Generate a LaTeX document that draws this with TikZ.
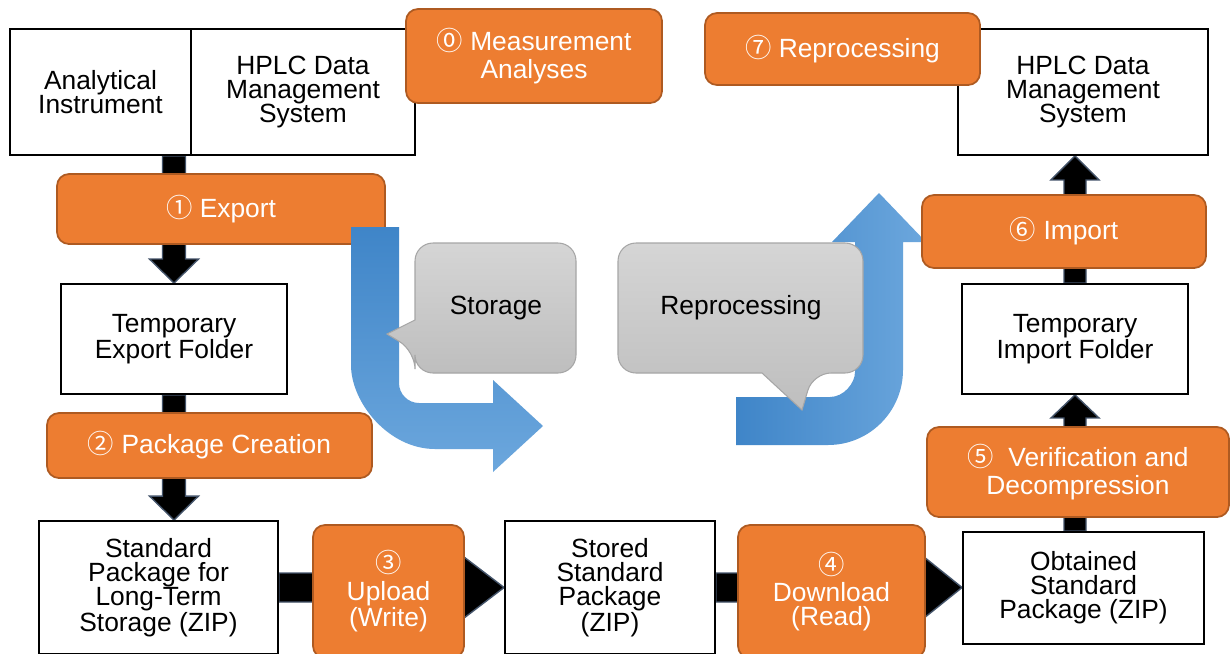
\documentclass[tikz,border=0pt]{standalone}
\usepackage{fontspec}
\setmainfont{Liberation Sans}
\newfontfamily\circfont{Noto Sans CJK JP}
\usetikzlibrary{calc}
\pgfdeclarelayer{bg}
\pgfsetlayers{bg,main}
\definecolor{orfill}{HTML}{ED7D31}
\definecolor{orborder}{HTML}{AE5A21}
\definecolor{slate}{HTML}{44546A}
\definecolor{bluedark}{HTML}{3F85C8}
\definecolor{bluelight}{HTML}{6CA7DD}
\definecolor{calltop}{HTML}{D5D5D5}
\definecolor{callbot}{HTML}{BEBEBE}
\definecolor{callborder}{HTML}{A6A6A6}
\newcommand\cnum[1]{{\circfont #1}}
% shaft half width, head half width, head length, from, to
\newcommand\blkarrow[5]{%
  \coordinate (bh) at ($(#5)!#3!(#4)$);
  \draw[blkarr] ($(#4)!#1!90:(#5)$) -- ($(bh)!#1!-90:(#4)$) -- ($(bh)!#2!-90:(#4)$) -- (#5)
     -- ($(bh)!#2!90:(#4)$) -- ($(bh)!#1!90:(#4)$) -- ($(#4)!#1!-90:(#5)$) -- cycle;}
\begin{document}
\begin{tikzpicture}[x=0.02cm,y=-0.02cm,
  font=\fontsize{15}{13.7}\selectfont,
  sz/.style 2 args={minimum width=#1*0.02cm, minimum height=#2*0.02cm},
  wbox/.style={draw=black, line width=1.1pt, fill=white, inner sep=0pt, align=center},
  obox/.style={draw=orborder, fill=orfill, line width=1pt, rounded corners=0.24cm, inner sep=0pt, align=center, text=white},
  blkarr/.style={fill=black, draw=slate, line width=0.8pt, line join=miter},
  callout/.style={top color=calltop, bottom color=callbot, draw=callborder, line width=0.6pt}]
\useasboundingbox (0,0) rectangle (1231,653);
\clip (0,0) rectangle (1231,653);

% white boxes
\node[wbox, sz={181}{126}] (ai) at (100.5,92) {Analytical\\Instrument};
\node[wbox, sz={224}{126}] (hplca) at (303,92) {HPLC Data\\Management\\System};
\node[wbox, sz={226}{110}] (exp) at (174,339) {Temporary\\Export Folder};
\node[wbox, sz={239}{133}] (std) at (158.5,587.5) {Standard\\Package for\\Long-Term\\Storage (ZIP)};
\node[wbox, sz={210}{133}] (stored) at (610,587.5) {Stored\\Standard\\Package\\(ZIP)};
\node[wbox, sz={241}{112}] (obt) at (1083.5,588) {Obtained\\Standard\\Package (ZIP)};
\node[wbox, sz={226}{110}] (timp) at (1075,339) {Temporary\\Import Folder};
\node[wbox, sz={250}{126}] (hplcb) at (1083,92) {HPLC Data\\Management\\System};

% background and black block arrows, behind everything
\begin{pgfonlayer}{bg}
\fill[white] (0,0) rectangle (1231,653);
\coordinate (a1s) at (exp.north |- ai.south);
\coordinate (a2e) at (exp.south |- std.north);
\coordinate (a4e) at (stored.east -| obt.west);
\coordinate (a5s) at (timp.south |- obt.north);
\coordinate (a6e) at (timp.north |- hplcb.south);
\blkarrow{0.23cm}{0.49cm}{0.48cm}{a1s}{exp.north}
\blkarrow{0.23cm}{0.49cm}{0.48cm}{exp.south}{a2e}
\blkarrow{0.29cm}{0.61cm}{0.8cm}{std.east}{stored.west}
\blkarrow{0.29cm}{0.61cm}{0.76cm}{stored.east}{a4e}
\blkarrow{0.22cm}{0.48cm}{0.46cm}{a5s}{timp.south}
\blkarrow{0.22cm}{0.48cm}{0.48cm}{timp.north}{a6e}
\end{pgfonlayer}

% orange steps (behind blue arrows)
\node[obox, sz={256}{94}, font=\fontsize{15}{16}\selectfont] (s0) at (534,56) {\cnum{⓪} Measurement\\Analyses};
\node[obox, sz={275}{72}] (s7) at (842.5,49) {\cnum{⑦} Reprocessing};
\node[obox, sz={328}{70}] (s1) at (221,209) {\cnum{①} Export};

% blue curved arrows
\shade[top color=bluedark, bottom color=bluelight]
  (351,227) -- (399,227) -- (399,383) .. controls (399,394) and (408,403) .. (419,403)
  -- (493,403) -- (493,380) -- (543,426) -- (493,472) -- (493,449) -- (435,449)
  .. controls (388.6,449) and (351,402.6) .. (351,365) -- cycle;
\shade[left color=bluedark, right color=bluelight]
  (736,397) -- (830,397) .. controls (843.8,397) and (855,383.2) .. (855,372)
  -- (855,242) -- (832,242) -- (879,193) -- (926,242) -- (903,242) -- (903,370)
  .. controls (903,411.4) and (869.4,445) .. (828,445) -- (736,445) -- cycle;

% orange steps (in front)
\node[obox, sz={325}{65}] (s2) at (209.5,445.5) {\cnum{②} Package Creation};
\node[obox, sz={151}{133}] (s3) at (388.5,591.5) {\cnum{③}\\[2pt]Upload\\(Write)};
\node[obox, sz={187}{133}] (s4) at (831.5,591.5) {\cnum{④}\\[2pt]Download\\(Read)};
\node[obox, sz={302}{90}, font=\fontsize{15}{16}\selectfont] (s5) at (1078,472) {\cnum{⑤}\ \ Verification and\\Decompression};
\node[obox, sz={284}{73}] (s6) at (1064,231.5) {\cnum{⑥} Import};

% callouts
\shade[callout] (415,320) [rounded corners=0.36cm] -- (415,243) -- (576,243) -- (576,373)
  -- (415,373) -- (415,351) [sharp corners] -- (387,334) -- cycle;
\shade[callout] (762,373) [rounded corners=0.36cm] -- (618,373) -- (618,243) -- (863,243)
  -- (863,373) -- (813,373) [sharp corners] -- (802,410) -- cycle;
\node (stortxt) at (496,308) {Storage};
\node (reptxt) at (741,308) {Reprocessing};
\end{tikzpicture}
\end{document}
